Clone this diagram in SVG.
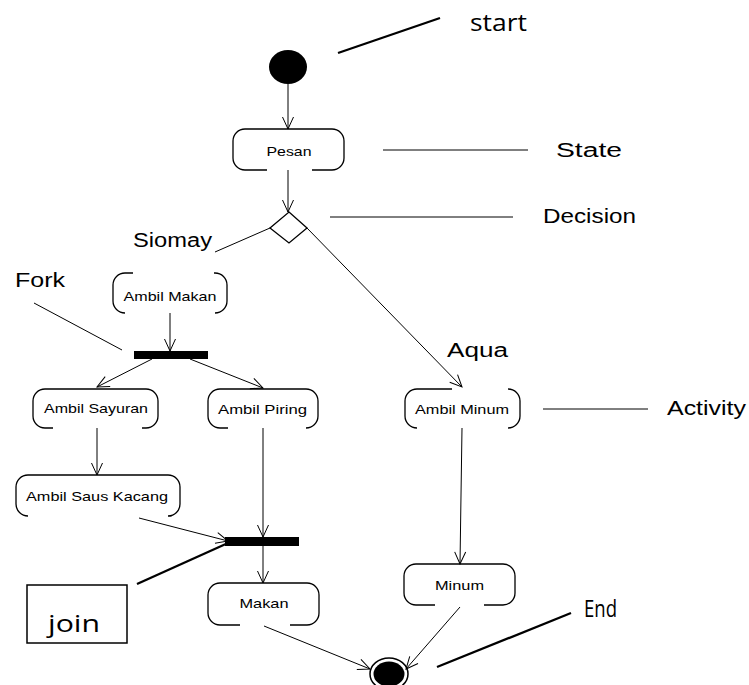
<svg xmlns="http://www.w3.org/2000/svg" width="749" height="685" viewBox="0 0 749 685">
  <style>
    .node { fill: none; stroke: #000; stroke-width: 1.3; }
    .ntext { font-family: "Liberation Sans", Arial, sans-serif; font-size: 13px; fill: #000; }
    .label { font-family: "Liberation Sans", Arial, sans-serif; font-size: 20px; fill: #000; }
    .clabel { font-family: "Open Sans", "Liberation Sans", sans-serif; font-size: 23px; fill: #000; }
    .flow { fill: none; stroke: #000; stroke-width: 1; marker-end: url(#arrow); }
    .plain { fill: none; stroke: #000; stroke-width: 1; }
    .thick { fill: none; stroke: #000; stroke-width: 2.3; }
    .bar { fill: #000; }
  </style>
  <defs>
    <marker id="arrow" viewBox="-13 -7 14 14" refX="0" refY="0" markerWidth="14" markerHeight="14" markerUnits="userSpaceOnUse" orient="auto">
      <path d="M -12,-5.5 L 0,0 L -12,5.5" fill="none" stroke="#000" stroke-width="1"/>
    </marker>
  </defs>

  <rect width="749" height="685" fill="#fff"/>

  <!-- initial state -->
  <g id="start">
    <ellipse cx="288" cy="67" rx="19" ry="17" fill="#000"/>
  </g>

  <!-- activity states: two brackets with broken top/bottom edges -->
  <g id="pesan">
    <path class="node" d="M288,129 L245,129 A12,12 0 0 0 233,141 L233,158 A12,12 0 0 0 245,170 L267,170 M288,129 L332,129 A12,12 0 0 1 344,141 L344,158 A12,12 0 0 1 332,170 L312,170"/>
    <text class="ntext" x="289" y="156" text-anchor="middle" textLength="45" lengthAdjust="spacingAndGlyphs">Pesan</text>
  </g>

  <g id="decision">
    <path class="node" d="M289,212 L307,228 L289,243 L270,228 Z"/>
  </g>

  <g id="ambil-makan">
    <path class="node" d="M133,273 L125,273 A12,12 0 0 0 113,285 L113,301 A12,12 0 0 0 125,313 M214,273 L215,273 A12,12 0 0 1 227,285 L227,301 A12,12 0 0 1 215,313"/>
    <text class="ntext" x="170" y="301" text-anchor="middle" textLength="93" lengthAdjust="spacingAndGlyphs">Ambil Makan</text>
  </g>

  <g id="fork">
    <rect class="bar" x="134" y="351" width="74" height="8"/>
  </g>

  <g id="ambil-sayuran">
    <path class="node" d="M96,389 L45,389 A12,12 0 0 0 33,401 L33,416 A12,12 0 0 0 45,428 L53,428 M96,389 L146,389 A12,12 0 0 1 158,401 L158,416 A12,12 0 0 1 146,428 L142,428"/>
    <text class="ntext" x="96" y="413" text-anchor="middle" textLength="104" lengthAdjust="spacingAndGlyphs">Ambil Sayuran</text>
  </g>

  <g id="ambil-piring">
    <path class="node" d="M263,389 L220,389 A12,12 0 0 0 208,401 L208,416 A12,12 0 0 0 220,428 L228,428 M263,389 L306,389 A12,12 0 0 1 318,401 L318,416 A12,12 0 0 1 306,428 L307,428"/>
    <text class="ntext" x="262.5" y="414" text-anchor="middle" textLength="89" lengthAdjust="spacingAndGlyphs">Ambil Piring</text>
  </g>

  <g id="ambil-minum">
    <path class="node" d="M452,389 L417,389 A12,12 0 0 0 405,401 L405,416 A12,12 0 0 0 417,428 M508,389 A12,12 0 0 1 520,401 L520,416 A12,12 0 0 1 508,428"/>
    <text class="ntext" x="462" y="414" text-anchor="middle" textLength="94" lengthAdjust="spacingAndGlyphs">Ambil Minum</text>
  </g>

  <g id="ambil-saus-kacang">
    <path class="node" d="M98,475 L28,475 A12,12 0 0 0 16,487 L16,504 A12,12 0 0 0 28,516 M98,475 L168,475 A12,12 0 0 1 180,487 L180,504 A12,12 0 0 1 168,516 L172,516"/>
    <text class="ntext" x="97" y="501" text-anchor="middle" textLength="142" lengthAdjust="spacingAndGlyphs">Ambil Saus Kacang</text>
  </g>

  <g id="join">
    <rect class="bar" x="225" y="537" width="74" height="9"/>
  </g>

  <g id="makan">
    <path class="node" d="M263,583 L220,583 A12,12 0 0 0 208,595 L208,613 A12,12 0 0 0 220,625 L240,625 M263,583 L307,583 A12,12 0 0 1 319,595 L319,613 A12,12 0 0 1 307,625 L290,625"/>
    <text class="ntext" x="264" y="608" text-anchor="middle" textLength="49" lengthAdjust="spacingAndGlyphs">Makan</text>
  </g>

  <g id="minum">
    <path class="node" d="M460,564 L416,564 A12,12 0 0 0 404,576 L404,593 A12,12 0 0 0 416,605 L435,605 M460,564 L503,564 A12,12 0 0 1 515,576 L515,593 A12,12 0 0 1 503,605 L484,605"/>
    <text class="ntext" x="459.5" y="590" text-anchor="middle" textLength="49" lengthAdjust="spacingAndGlyphs">Minum</text>
  </g>

  <!-- final state (runs off the bottom edge) -->
  <g id="end">
    <ellipse cx="389" cy="674" rx="19" ry="16" fill="#fff" stroke="#000" stroke-width="1.5"/>
    <ellipse cx="389" cy="674" rx="15.5" ry="12.5" fill="#000"/>
  </g>

  <!-- transitions -->
  <g id="connectors">
    <path class="flow" d="M288,84 L288,129"/>
    <path class="flow" d="M288,170 L288,212"/>
    <path class="plain" d="M270,228 L215,252"/>
    <path class="flow" d="M307,228 L462,387"/>
    <path class="flow" d="M170,313 L170,351"/>
    <path class="flow" d="M152,359 L97,387"/>
    <path class="flow" d="M190,359 L263,388"/>
    <path class="flow" d="M97,428 L97,475"/>
    <path class="flow" d="M263,428 L263,537"/>
    <path class="flow" d="M139,518 L228,541"/>
    <path class="flow" d="M263,546 L263,583"/>
    <path class="flow" d="M264,626 L370,669"/>
    <path class="flow" d="M462,428 L460,564"/>
    <path class="flow" d="M460,607 L406,669"/>
  </g>

  <!-- annotations -->
  <g id="annotations">
    <path class="thick" d="M338,53 L440,18"/>
    <text class="clabel" x="470" y="31" textLength="57" lengthAdjust="spacingAndGlyphs">start</text>

    <path class="plain" d="M383,150 L528,150"/>
    <text class="label" x="556" y="157" textLength="66" lengthAdjust="spacingAndGlyphs">State</text>

    <path class="plain" d="M330,217 L513,217"/>
    <text class="label" x="543" y="223" textLength="93" lengthAdjust="spacingAndGlyphs">Decision</text>

    <text class="label" x="133" y="247" textLength="79" lengthAdjust="spacingAndGlyphs">Siomay</text>

    <path class="plain" d="M34,303 L122,350"/>
    <text class="label" x="15" y="287" textLength="50" lengthAdjust="spacingAndGlyphs">Fork</text>

    <text class="label" x="447" y="357" textLength="61" lengthAdjust="spacingAndGlyphs">Aqua</text>

    <path class="plain" d="M543,409 L648,409"/>
    <text class="label" x="667" y="415" textLength="79" lengthAdjust="spacingAndGlyphs">Activity</text>

    <path class="thick" d="M437,667 L571,613"/>
    <text class="clabel" x="584" y="617" textLength="33" lengthAdjust="spacingAndGlyphs">End</text>

    <path class="thick" d="M137,584 L228,543"/>
    <rect x="27" y="585" width="100" height="58" fill="none" stroke="#000" stroke-width="1.5"/>
    <text class="clabel" x="48" y="632" font-size="27" textLength="52" lengthAdjust="spacingAndGlyphs">join</text>
  </g>
</svg>
